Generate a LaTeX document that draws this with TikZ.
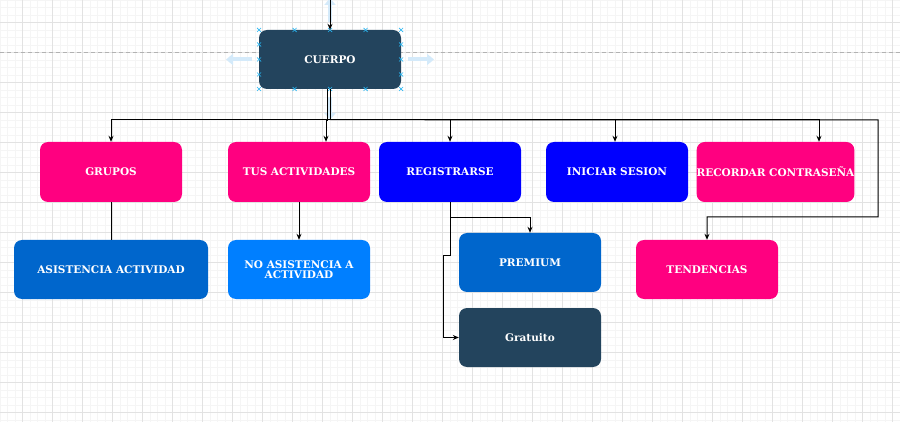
\documentclass[tikz,border=0pt]{standalone}
\usepackage{fontspec}
\setmainfont{DejaVu Serif}
\usetikzlibrary{arrows.meta,calc}
\definecolor{navy}{HTML}{23445D}
\definecolor{pinkc}{HTML}{FF0080}
\definecolor{bluec}{HTML}{0000FF}
\definecolor{midblue}{HTML}{0066CC}
\definecolor{skyblue}{HTML}{007FFF}
\definecolor{gridminor}{HTML}{F5F5F5}
\definecolor{gridmajor}{HTML}{E2E2E2}
\definecolor{handle}{HTML}{29B6F2}
\definecolor{hint}{HTML}{D4EAFA}
\tikzset{
  box/.style={rectangle, rounded corners=8pt, draw=none, text=white,
    font=\fontsize{10.5}{12.5}\selectfont\bfseries, align=center,
    minimum width=142pt, minimum height=60pt, inner sep=0pt},
  arr/.style={draw=black, line width=1pt, -{Stealth[length=6pt,width=5pt]}},
  conn/.style={draw=black, line width=1pt},
  xmark/.style={draw=handle, line width=0.7pt},
  hintarrow/.style={draw=hint, line width=4pt, -{Triangle[length=7pt,width=11pt]}}
}
\begin{document}
\begin{tikzpicture}[x=1pt,y=-1pt]
\useasboundingbox (0,0) rectangle (900,422);
\fill[white] (0,0) rectangle (900,422);
% grid
\foreach \i in {0,...,120} {
  \pgfmathsetmacro{\xx}{0.0+7.5*\i}
  \draw[gridminor, line width=0.8pt] (\xx,0) -- (\xx,422);
}
\foreach \i in {0,...,57} {
  \pgfmathsetmacro{\yy}{0.0+7.5*\i}
  \draw[gridminor, line width=0.8pt] (0,\yy) -- (900,\yy);
}
\foreach \i in {0,...,29} {
  \pgfmathsetmacro{\xx}{22.5+30*\i}
  \draw[gridmajor, line width=0.9pt] (\xx,0) -- (\xx,422);
}
\foreach \i in {0,...,13} {
  \pgfmathsetmacro{\yy}{22.5+30*\i}
  \draw[gridmajor, line width=0.9pt] (0,\yy) -- (900,\yy);
}
\draw[gray!60, dash pattern=on 4pt off 3pt, line width=0.8pt] (0,52.5) -- (900,52.5);

% hint arrows (editor)
\draw[hintarrow] (252,59.5) -- (226,59.5);
\draw[hintarrow] (408,59.5) -- (434,59.5);
\draw[hintarrow] (330,22) -- (330,-2);
\draw[hintarrow] (330,97) -- (330,120);

% nodes
\node[box, fill=navy, minimum height=59pt] (cuerpo) at (330,59.5) {CUERPO};
\node[box, fill=pinkc] (grupos) at (111,172) {GRUPOS};
\node[box, fill=pinkc] (tus) at (299,172) {TUS ACTIVIDADES};
\node[box, fill=bluec] (reg) at (450,172) {REGISTRARSE};
\node[box, fill=bluec] (ini) at (617,172) {INICIAR SESION};
\node[box, fill=pinkc, minimum width=155pt] (rec) at (775.5,172) {RECORDAR CONTRASEÑA};
\node[box, fill=midblue, minimum width=194pt, minimum height=59pt] (asi) at (111,269.5) {ASISTENCIA ACTIVIDAD};
\node[box, fill=skyblue, minimum height=59pt] (noa) at (299,269.5) {NO ASISTENCIA A\\[-2pt]ACTIVIDAD};
\node[box, fill=midblue, minimum height=59pt] (prem) at (530,262.5) {PREMIUM};
\node[box, fill=navy, minimum height=59pt] (grat) at (530,337.5) {Gratuito};
\node[box, fill=pinkc, minimum height=59pt] (tend) at (707,269.5) {TENDENCIAS};

% selection handles
\foreach \hx/\hy in {259/30,294.5/30,330/30,365.5/30,401/30,259/89,294.5/89,330/89,365.5/89,401/89,259/44.5,259/59.5,259/74.5,401/44.5,401/59.5,401/74.5} {
  \draw[xmark] (\hx-2,\hy-2) -- (\hx+2,\hy+2) (\hx-2,\hy+2) -- (\hx+2,\hy-2);
}

% connectors
\coordinate (top) at (330,0);
\draw[arr] (top) -- (cuerpo.north);
\coordinate (J) at ($(cuerpo.south)+(0,30.5)$);
\coordinate (R) at (878,120);
\draw[conn] (cuerpo.south) -- (J);
\draw[conn] ([xshift=-3pt]cuerpo.south) -- ++(0,32);
\draw[arr] (J) -| (grupos.north);
\draw[arr] (J) -| ([xshift=27pt]tus.north);
\draw[arr] (J) -| (reg.north);
\draw[arr] (J) -| ([xshift=-2pt]ini.north);
\draw[arr] (J) -| ([xshift=43.5pt]rec.north);
\draw[arr] (J) -- (R) -- (878,217) -| (tend.north);
\draw[conn] (grupos.south) -- (asi.north);
\draw[arr] (tus.south) -- (noa.north);
\draw[arr] (reg.south) -- ++(0,15) -| (prem.north);
\draw[arr] (reg.south) -- ++(0,53) -- ++(-7,0) |- (grat.west);
\end{tikzpicture}
\end{document}
